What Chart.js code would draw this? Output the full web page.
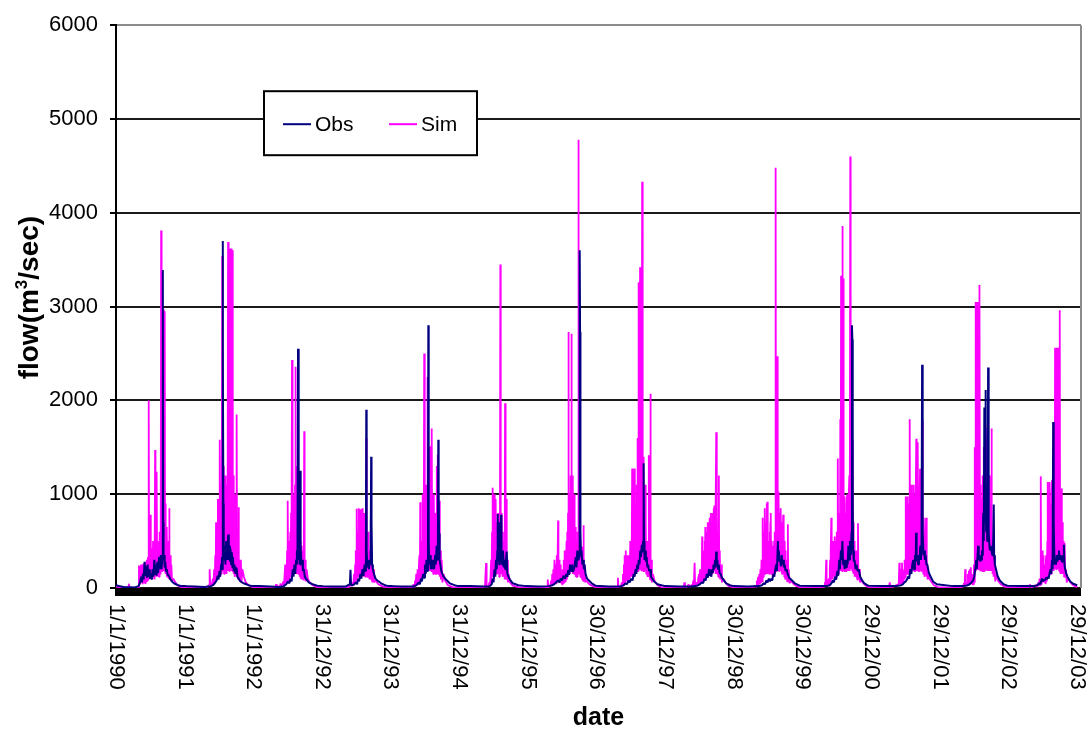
<!DOCTYPE html>
<html>
<head>
<meta charset="utf-8">
<script src="https://cdn.jsdelivr.net/npm/chart.js@4.4.1/dist/chart.umd.min.js"></script>
<style>
  html, body { margin: 0; padding: 0; background: #ffffff; }
</style>
</head>
<body>
<canvas id="flowChart" width="1092" height="733"></canvas>
<script>
// days counted from 1/1/1990, flows in m3/sec
const dateLabels = ["1/1/1990", "1/1/1991", "1/1/1992", "31/12/92", "31/12/93", "31/12/94", "31/12/95",
  "30/12/96", "30/12/97", "30/12/98", "30/12/99", "29/12/00", "29/12/01", "29/12/02", "29/12/03"];
const labelStep = 365;

const obsFlow = [
  // 1990
  [0, 30], [20, 20], [40, 10], [100, 5], [120, 20], [128, 60], [134, 120], [138, 60], [143, 150], [147, 90], [152, 280], [156, 130], [160, 230], [164, 110], [168, 250], [172, 120], [176, 200], [180, 100], [186, 150], [190, 90], [195, 200], [199, 120], [204, 300], [208, 150], [212, 250], [216, 130], [220, 280], [224, 160], [229, 330], [233, 200], [238, 350], [242, 200], [246, 300], [249, 3390], [251, 700], [253, 300], [256, 350], [259, 220], [262, 280], [266, 180], [270, 200], [275, 140], [282, 130], [290, 90], [300, 65], [312, 45], [330, 30], [350, 20],
  // 1991
  [370, 20], [420, 15], [470, 10], [505, 20], [515, 30], [525, 50], [535, 80], [541, 130], [545, 90], [550, 180], [554, 120], [559, 250], [563, 330], [565, 200], [567, 3700], [569, 2600], [571, 900], [573, 400], [576, 300], [579, 450], [582, 250], [586, 500], [589, 300], [593, 420], [597, 570], [600, 300], [603, 450], [606, 280], [609, 420], [612, 250], [616, 380], [619, 220], [622, 330], [626, 180], [630, 250], [634, 160], [638, 220], [642, 200], [646, 120], [652, 100], [660, 75], [670, 60], [685, 45], [705, 30], [725, 20],
  // 1992
  [760, 20], [820, 15], [870, 10], [892, 20], [905, 40], [915, 70], [922, 50], [928, 100], [934, 70], [940, 200], [944, 120], [949, 250], [953, 150], [958, 300], [962, 400], [965, 250], [968, 2550], [970, 600], [973, 300], [976, 400], [979, 250], [981, 1250], [983, 450], [986, 250], [990, 300], [994, 180], [999, 200], [1004, 120], [1010, 100], [1025, 60], [1045, 40], [1070, 25],
  // 1993
  [1100, 20], [1150, 15], [1220, 15], [1244, 40], [1247, 195], [1250, 30], [1265, 35], [1275, 60], [1282, 40], [1288, 100], [1293, 70], [1300, 150], [1305, 100], [1311, 200], [1316, 130], [1322, 250], [1326, 180], [1329, 300], [1331, 1900], [1333, 400], [1337, 220], [1341, 300], [1345, 200], [1350, 280], [1354, 250], [1357, 1400], [1359, 700], [1362, 250], [1366, 200], [1372, 150], [1380, 100], [1390, 80], [1410, 50], [1430, 30], [1450, 20],
  // 1994
  [1470, 20], [1520, 15], [1580, 15], [1598, 30], [1610, 60], [1616, 40], [1622, 100], [1627, 70], [1633, 150], [1638, 110], [1643, 250], [1647, 150], [1651, 300], [1655, 180], [1659, 330], [1661, 2800], [1663, 500], [1666, 250], [1670, 350], [1674, 200], [1678, 300], [1682, 200], [1687, 300], [1692, 200], [1697, 350], [1701, 250], [1705, 450], [1709, 300], [1712, 500], [1714, 1580], [1716, 1040], [1718, 580], [1721, 300], [1725, 250], [1730, 180], [1740, 130], [1755, 90], [1775, 50], [1800, 30], [1820, 20],
  // 1995
  [1880, 20], [1960, 15], [1988, 20], [1998, 40], [2003, 100], [2008, 60], [2013, 200], [2017, 120], [2021, 300], [2025, 200], [2028, 400], [2030, 790], [2032, 300], [2035, 500], [2038, 250], [2041, 700], [2044, 300], [2048, 780], [2050, 300], [2054, 250], [2058, 400], [2062, 220], [2066, 300], [2070, 200], [2074, 300], [2078, 390], [2081, 150], [2087, 120], [2095, 90], [2110, 50], [2140, 30], [2180, 20],
  // 1996
  [2250, 15], [2300, 20], [2320, 30], [2330, 40], [2340, 60], [2350, 80], [2358, 60], [2365, 100], [2372, 80], [2380, 130], [2388, 100], [2395, 150], [2400, 120], [2405, 190], [2410, 140], [2415, 250], [2420, 180], [2425, 250], [2430, 170], [2435, 200], [2440, 260], [2445, 330], [2449, 220], [2453, 400], [2457, 300], [2461, 400], [2463, 330], [2466, 3600], [2468, 2730], [2470, 600], [2473, 350], [2476, 400], [2480, 250], [2484, 300], [2488, 200], [2492, 250], [2497, 150], [2505, 100], [2515, 80], [2530, 50], [2550, 25],
  // 1997
  [2620, 15], [2680, 15], [2700, 30], [2710, 50], [2718, 40], [2725, 80], [2732, 60], [2740, 100], [2747, 80], [2753, 150], [2758, 120], [2763, 200], [2767, 150], [2772, 250], [2776, 200], [2780, 300], [2784, 250], [2788, 400], [2792, 330], [2796, 460], [2800, 380], [2803, 500], [2806, 1330], [2808, 500], [2811, 300], [2815, 400], [2818, 280], [2822, 330], [2826, 220], [2830, 250], [2835, 180], [2840, 200], [2845, 120], [2852, 100], [2862, 70], [2880, 40], [2920, 20],
  // 1998
  [3000, 15], [3060, 15], [3090, 25], [3105, 40], [3115, 60], [3122, 50], [3130, 100], [3136, 80], [3142, 150], [3148, 110], [3154, 200], [3158, 130], [3162, 180], [3166, 120], [3170, 200], [3174, 160], [3178, 250], [3182, 200], [3186, 300], [3189, 220], [3192, 390], [3195, 250], [3198, 300], [3202, 200], [3206, 250], [3210, 160], [3215, 150], [3222, 110], [3230, 90], [3245, 50], [3265, 30], [3285, 20],
  // 1999
  [3360, 15], [3420, 20], [3435, 30], [3445, 50], [3452, 40], [3458, 80], [3465, 60], [3472, 100], [3478, 70], [3485, 100], [3490, 80], [3496, 150], [3501, 120], [3506, 200], [3511, 250], [3515, 180], [3520, 500], [3522, 300], [3525, 400], [3528, 280], [3532, 300], [3536, 230], [3540, 350], [3544, 250], [3548, 300], [3552, 220], [3556, 250], [3561, 180], [3566, 200], [3572, 150], [3580, 110], [3590, 90], [3610, 50], [3636, 25],
  // 2000
  [3720, 20], [3780, 20], [3795, 30], [3805, 50], [3812, 80], [3818, 60], [3824, 120], [3830, 90], [3836, 180], [3841, 130], [3846, 300], [3850, 200], [3855, 400], [3859, 300], [3863, 500], [3867, 250], [3871, 300], [3875, 200], [3879, 300], [3883, 220], [3887, 300], [3891, 250], [3895, 450], [3899, 300], [3903, 500], [3908, 350], [3912, 600], [3914, 2800], [3916, 2650], [3918, 900], [3920, 400], [3924, 280], [3928, 300], [3933, 200], [3938, 250], [3944, 180], [3950, 200], [3958, 120], [3968, 80], [3980, 50], [4000, 25],
  // 2001
  [4080, 20], [4150, 20], [4175, 30], [4185, 40], [4193, 60], [4200, 70], [4206, 90], [4212, 120], [4218, 100], [4225, 200], [4230, 150], [4235, 250], [4240, 300], [4244, 200], [4249, 350], [4253, 280], [4255, 590], [4258, 300], [4262, 350], [4266, 250], [4270, 350], [4274, 300], [4277, 450], [4281, 300], [4284, 500], [4287, 2380], [4289, 1800], [4291, 600], [4294, 350], [4298, 400], [4302, 300], [4306, 350], [4310, 250], [4315, 250], [4322, 170], [4330, 130], [4345, 70], [4365, 40],
  // 2002
  [4450, 20], [4510, 20], [4530, 30], [4540, 40], [4550, 60], [4558, 80], [4564, 120], [4570, 200], [4575, 300], [4578, 200], [4582, 350], [4585, 450], [4588, 300], [4592, 350], [4595, 290], [4599, 350], [4603, 300], [4605, 400], [4608, 350], [4610, 500], [4612, 800], [4615, 500], [4618, 1925], [4620, 700], [4622, 900], [4624, 2110], [4626, 800], [4628, 600], [4630, 1100], [4633, 500], [4636, 900], [4638, 2350], [4640, 1300], [4642, 600], [4645, 450], [4648, 400], [4652, 450], [4656, 400], [4660, 350], [4664, 400], [4668, 890], [4670, 350], [4674, 250], [4680, 200], [4688, 130], [4700, 80], [4720, 40], [4740, 25],
  // 2003
  [4820, 20], [4880, 20], [4900, 30], [4910, 50], [4916, 40], [4921, 80], [4925, 100], [4930, 70], [4936, 90], [4940, 80], [4946, 110], [4950, 90], [4955, 120], [4960, 100], [4965, 160], [4970, 200], [4974, 150], [4978, 300], [4981, 200], [4984, 1770], [4986, 900], [4988, 700], [4991, 250], [4995, 300], [4999, 250], [5003, 350], [5007, 280], [5011, 350], [5015, 400], [5019, 300], [5023, 350], [5027, 300], [5031, 280], [5035, 350], [5038, 300], [5041, 460], [5044, 250], [5048, 200], [5054, 150], [5060, 120], [5075, 70], [5090, 45], [5112, 30]
];

const simFlow = [
  // 1990
  [0, 15], [35, 5], [66, 10], [68, 45], [72, 5], [118, 5], [122, 240], [124, 40], [127, 230], [130, 50], [133, 250], [136, 60], [139, 200], [142, 40], [146, 260], [149, 60], [152, 240], [155, 50], [158, 280], [161, 70], [164, 300], [167, 80], [170, 330], [172, 90], [174, 2000], [176, 120], [178, 500], [180, 100], [182, 780], [184, 120], [186, 450], [188, 100], [191, 420], [194, 100], [197, 500], [200, 120], [203, 380], [205, 90], [208, 1470], [210, 130], [213, 450], [215, 120], [217, 1240], [219, 150], [222, 500], [224, 130], [227, 450], [229, 120], [232, 600], [234, 150], [237, 550], [238, 180], [240, 3810], [242, 180], [243, 3300], [245, 180], [247, 2970], [249, 200], [251, 2950], [253, 180], [255, 2970], [257, 200], [259, 2950], [261, 180], [263, 900], [265, 150], [267, 650], [269, 120], [271, 600], [273, 120], [276, 420], [278, 110], [280, 500], [282, 100], [283, 850], [285, 120], [288, 350], [291, 90], [294, 250], [298, 80], [305, 100], [315, 60], [330, 25], [350, 10],
  // 1991
  [380, 5], [440, 5], [480, 5], [495, 30], [498, 200], [501, 30], [510, 40], [515, 100], [518, 30], [522, 200], [525, 50], [528, 350], [530, 70], [532, 700], [534, 90], [537, 500], [539, 100], [542, 950], [544, 120], [546, 600], [548, 120], [550, 1000], [552, 150], [553, 1580], [555, 150], [557, 800], [559, 150], [561, 1100], [563, 150], [565, 3540], [567, 180], [569, 1200], [571, 180], [573, 1300], [575, 150], [577, 900], [579, 180], [581, 1200], [583, 180], [586, 900], [588, 150], [591, 1100], [593, 180], [596, 3690], [598, 180], [600, 1500], [602, 180], [604, 3620], [606, 200], [608, 3620], [610, 180], [612, 3620], [614, 200], [616, 3620], [618, 180], [620, 3600], [622, 180], [624, 1200], [626, 150], [629, 800], [631, 120], [634, 1000], [636, 150], [639, 700], [641, 120], [642, 1850], [644, 120], [647, 400], [649, 100], [652, 860], [654, 90], [657, 300], [660, 70], [664, 300], [667, 60], [672, 200], [680, 120], [690, 60], [705, 30], [725, 10],
  // 1992
  [760, 5], [800, 5], [845, 5], [852, 40], [856, 10], [872, 20], [875, 50], [878, 15], [886, 40], [890, 70], [893, 20], [897, 150], [900, 250], [902, 50], [905, 150], [907, 40], [910, 400], [912, 60], [914, 930], [916, 70], [918, 300], [920, 60], [922, 500], [924, 90], [927, 600], [929, 120], [931, 800], [933, 150], [936, 2430], [938, 150], [940, 760], [942, 150], [944, 1000], [946, 150], [948, 700], [950, 150], [952, 1100], [953, 180], [955, 2360], [957, 150], [959, 800], [961, 150], [963, 1300], [965, 180], [967, 900], [969, 150], [971, 1250], [973, 150], [975, 600], [977, 120], [980, 500], [982, 100], [985, 450], [987, 90], [991, 400], [993, 90], [996, 300], [998, 80], [1001, 1670], [1003, 90], [1006, 300], [1009, 70], [1014, 200], [1020, 100], [1030, 60], [1045, 30], [1070, 10],
  // 1993
  [1100, 5], [1150, 5], [1200, 5], [1238, 10], [1240, 20], [1248, 30], [1250, 60], [1254, 20], [1262, 40], [1266, 150], [1269, 40], [1272, 250], [1274, 60], [1276, 400], [1278, 90], [1280, 845], [1282, 120], [1285, 600], [1287, 120], [1290, 850], [1292, 150], [1295, 500], [1297, 120], [1300, 840], [1302, 150], [1305, 700], [1307, 150], [1310, 850], [1312, 150], [1315, 500], [1317, 120], [1320, 800], [1322, 150], [1324, 600], [1326, 120], [1328, 700], [1329, 150], [1331, 1600], [1333, 150], [1336, 400], [1338, 110], [1341, 600], [1343, 120], [1346, 400], [1348, 90], [1352, 300], [1355, 740], [1357, 90], [1360, 300], [1363, 60], [1368, 200], [1372, 60], [1380, 80], [1395, 40], [1420, 15], [1450, 5],
  // 1994
  [1500, 5], [1550, 5], [1578, 10], [1582, 40], [1586, 15], [1590, 80], [1593, 20], [1597, 150], [1600, 30], [1604, 200], [1607, 40], [1611, 250], [1614, 350], [1616, 60], [1618, 915], [1620, 70], [1623, 300], [1625, 90], [1628, 500], [1630, 120], [1632, 1000], [1634, 150], [1636, 600], [1637, 150], [1639, 2500], [1641, 150], [1643, 900], [1645, 180], [1648, 1100], [1650, 180], [1652, 900], [1654, 180], [1656, 1100], [1658, 2250], [1660, 200], [1662, 1510], [1664, 200], [1666, 1510], [1668, 180], [1670, 1300], [1672, 200], [1674, 1510], [1676, 180], [1678, 1200], [1680, 1700], [1682, 180], [1685, 800], [1687, 150], [1690, 1000], [1692, 180], [1695, 500], [1697, 150], [1700, 800], [1702, 150], [1706, 1300], [1708, 180], [1711, 1420], [1713, 150], [1715, 900], [1717, 150], [1720, 930], [1722, 120], [1725, 400], [1728, 90], [1732, 300], [1736, 60], [1742, 150], [1750, 80], [1765, 30], [1790, 10], [1820, 5],
  // 1995
  [1880, 5], [1940, 5], [1962, 10], [1968, 265], [1971, 15], [1982, 20], [1985, 60], [1988, 20], [1992, 120], [1995, 300], [1997, 60], [2000, 600], [2002, 120], [2004, 1070], [2006, 150], [2008, 700], [2010, 150], [2012, 1000], [2014, 150], [2016, 800], [2018, 150], [2020, 950], [2022, 150], [2024, 700], [2026, 150], [2028, 600], [2030, 150], [2032, 800], [2034, 150], [2036, 600], [2038, 120], [2041, 500], [2042, 120], [2044, 3450], [2046, 150], [2048, 700], [2050, 150], [2052, 800], [2054, 150], [2056, 600], [2058, 120], [2061, 500], [2063, 120], [2066, 400], [2067, 90], [2069, 1970], [2071, 90], [2073, 400], [2075, 110], [2077, 950], [2079, 90], [2081, 300], [2084, 60], [2088, 150], [2095, 60], [2110, 25], [2140, 10], [2180, 5],
  // 1996
  [2250, 5], [2280, 10], [2294, 10], [2296, 90], [2299, 10], [2310, 20], [2314, 80], [2317, 20], [2320, 150], [2323, 30], [2326, 200], [2329, 50], [2332, 300], [2335, 60], [2338, 250], [2341, 50], [2344, 350], [2347, 70], [2351, 720], [2353, 70], [2356, 300], [2359, 60], [2362, 250], [2365, 50], [2368, 150], [2372, 40], [2375, 200], [2378, 50], [2381, 300], [2383, 60], [2386, 400], [2388, 70], [2391, 300], [2393, 70], [2396, 500], [2398, 90], [2400, 600], [2402, 120], [2404, 800], [2406, 2730], [2408, 150], [2410, 800], [2412, 150], [2414, 1000], [2416, 180], [2418, 1200], [2420, 180], [2422, 2710], [2424, 180], [2426, 700], [2428, 150], [2430, 1200], [2432, 180], [2434, 900], [2436, 150], [2438, 1000], [2440, 150], [2442, 650], [2444, 120], [2446, 400], [2448, 120], [2450, 500], [2452, 120], [2455, 600], [2457, 150], [2459, 4780], [2461, 180], [2463, 1000], [2465, 150], [2467, 550], [2469, 120], [2472, 440], [2474, 110], [2477, 400], [2479, 90], [2482, 440], [2484, 90], [2486, 670], [2488, 70], [2492, 250], [2496, 60], [2502, 80], [2512, 50], [2525, 30], [2550, 10],
  // 1997
  [2600, 5], [2640, 5], [2665, 10], [2669, 110], [2672, 10], [2685, 20], [2690, 60], [2693, 20], [2696, 150], [2698, 40], [2701, 250], [2703, 50], [2705, 350], [2707, 70], [2710, 400], [2712, 90], [2715, 350], [2717, 80], [2720, 350], [2722, 70], [2725, 300], [2727, 80], [2730, 350], [2732, 90], [2735, 500], [2737, 120], [2740, 400], [2742, 120], [2745, 1275], [2747, 120], [2750, 350], [2752, 120], [2754, 400], [2757, 1275], [2759, 150], [2761, 700], [2763, 150], [2765, 900], [2767, 180], [2769, 1100], [2771, 180], [2773, 1300], [2775, 1600], [2777, 180], [2779, 1500], [2780, 3260], [2782, 200], [2784, 1500], [2786, 200], [2787, 3420], [2789, 250], [2791, 1300], [2793, 200], [2795, 1100], [2797, 180], [2798, 4330], [2800, 200], [2802, 1300], [2804, 180], [2806, 1400], [2808, 180], [2810, 1100], [2812, 180], [2814, 1100], [2816, 180], [2818, 700], [2820, 150], [2822, 500], [2824, 150], [2827, 500], [2829, 120], [2831, 400], [2833, 120], [2834, 1415], [2836, 120], [2838, 400], [2840, 90], [2842, 2070], [2844, 90], [2847, 300], [2850, 60], [2855, 150], [2865, 70], [2880, 30], [2900, 10], [2920, 5],
  // 1998
  [2980, 5], [3020, 10], [3023, 60], [3026, 10], [3040, 15], [3045, 40], [3048, 15], [3058, 20], [3062, 40], [3066, 15], [3070, 80], [3073, 20], [3077, 270], [3080, 20], [3086, 40], [3090, 60], [3093, 20], [3097, 120], [3100, 150], [3103, 40], [3106, 200], [3109, 50], [3113, 200], [3115, 70], [3117, 550], [3119, 60], [3122, 250], [3124, 70], [3126, 400], [3128, 90], [3130, 500], [3132, 90], [3134, 650], [3136, 120], [3138, 550], [3140, 120], [3142, 600], [3144, 120], [3146, 700], [3148, 150], [3150, 650], [3152, 150], [3154, 700], [3156, 150], [3158, 750], [3160, 150], [3162, 800], [3164, 150], [3166, 700], [3168, 150], [3170, 650], [3172, 150], [3174, 800], [3176, 180], [3178, 850], [3180, 180], [3182, 880], [3184, 180], [3186, 750], [3188, 150], [3190, 900], [3192, 1660], [3194, 150], [3196, 900], [3198, 150], [3201, 600], [3203, 120], [3206, 1200], [3208, 120], [3211, 400], [3213, 90], [3218, 250], [3222, 60], [3230, 100], [3240, 60], [3255, 25], [3285, 5],
  // 1999
  [3340, 5], [3380, 10], [3398, 15], [3400, 30], [3404, 15], [3408, 80], [3411, 20], [3415, 120], [3418, 30], [3421, 150], [3424, 40], [3427, 200], [3430, 50], [3433, 300], [3436, 70], [3438, 400], [3440, 750], [3442, 120], [3444, 400], [3446, 120], [3448, 600], [3450, 850], [3452, 150], [3454, 600], [3456, 150], [3458, 700], [3460, 900], [3462, 150], [3464, 920], [3466, 150], [3468, 500], [3470, 150], [3472, 500], [3474, 150], [3476, 600], [3478, 150], [3480, 700], [3482, 800], [3484, 150], [3486, 500], [3488, 150], [3490, 450], [3492, 120], [3495, 400], [3497, 120], [3500, 500], [3502, 600], [3504, 150], [3506, 500], [3508, 4480], [3510, 180], [3512, 900], [3514, 180], [3515, 700], [3517, 2470], [3519, 180], [3521, 700], [3523, 180], [3524, 1030], [3526, 180], [3528, 700], [3530, 180], [3532, 800], [3534, 180], [3536, 850], [3538, 180], [3540, 700], [3542, 150], [3544, 700], [3546, 150], [3548, 780], [3550, 150], [3552, 600], [3554, 120], [3556, 500], [3558, 110], [3560, 400], [3562, 90], [3566, 300], [3569, 70], [3573, 680], [3575, 70], [3578, 200], [3582, 50], [3590, 80], [3600, 50], [3615, 25], [3636, 10],
  // 2000
  [3700, 5], [3750, 10], [3768, 15], [3770, 60], [3773, 15], [3777, 300], [3779, 20], [3786, 30], [3790, 100], [3793, 25], [3796, 200], [3798, 300], [3800, 60], [3802, 400], [3804, 750], [3806, 90], [3808, 400], [3810, 90], [3812, 450], [3815, 500], [3817, 120], [3819, 500], [3822, 550], [3824, 120], [3826, 500], [3828, 450], [3830, 120], [3832, 600], [3834, 600], [3836, 150], [3838, 700], [3839, 1380], [3841, 150], [3843, 500], [3845, 150], [3848, 800], [3850, 180], [3852, 1800], [3854, 180], [3856, 3330], [3857, 200], [3859, 1500], [3861, 180], [3863, 3860], [3865, 200], [3867, 3300], [3869, 180], [3870, 1000], [3872, 180], [3874, 800], [3876, 975], [3878, 180], [3880, 800], [3882, 700], [3884, 180], [3886, 900], [3888, 1000], [3890, 180], [3892, 900], [3894, 800], [3896, 180], [3898, 1000], [3900, 1200], [3902, 180], [3905, 4600], [3907, 200], [3909, 1580], [3911, 200], [3914, 1500], [3916, 180], [3918, 1580], [3920, 180], [3922, 700], [3924, 150], [3926, 500], [3928, 120], [3931, 400], [3933, 120], [3936, 300], [3938, 110], [3940, 400], [3942, 90], [3946, 690], [3948, 90], [3952, 200], [3956, 60], [3962, 100], [3970, 60], [3985, 30], [4000, 10],
  // 2001
  [4060, 5], [4110, 10], [4115, 60], [4118, 10], [4135, 15], [4140, 20], [4150, 30], [4160, 40], [4163, 60], [4166, 270], [4168, 40], [4171, 120], [4174, 40], [4177, 200], [4180, 270], [4182, 50], [4185, 150], [4188, 60], [4191, 200], [4193, 90], [4195, 300], [4197, 120], [4200, 975], [4202, 150], [4205, 700], [4207, 150], [4210, 975], [4212, 150], [4215, 800], [4217, 150], [4219, 900], [4221, 1800], [4223, 180], [4225, 700], [4227, 180], [4230, 1100], [4232, 180], [4234, 1000], [4236, 900], [4238, 180], [4240, 1000], [4242, 1100], [4244, 180], [4246, 1000], [4248, 900], [4250, 180], [4253, 1000], [4256, 1590], [4258, 180], [4260, 800], [4262, 180], [4265, 1555], [4267, 180], [4270, 900], [4272, 180], [4274, 1000], [4276, 1270], [4278, 180], [4281, 700], [4283, 180], [4285, 900], [4287, 1785], [4289, 180], [4291, 700], [4293, 150], [4296, 750], [4298, 150], [4300, 500], [4302, 120], [4305, 500], [4308, 750], [4310, 120], [4313, 300], [4316, 90], [4320, 150], [4326, 100], [4335, 70], [4350, 30], [4370, 10],
  // 2002
  [4430, 5], [4490, 10], [4505, 15], [4510, 50], [4513, 20], [4516, 200], [4519, 30], [4522, 60], [4526, 30], [4530, 150], [4533, 40], [4536, 180], [4538, 40], [4540, 200], [4543, 50], [4546, 220], [4548, 60], [4552, 150], [4554, 40], [4556, 100], [4559, 40], [4562, 250], [4564, 60], [4566, 600], [4568, 1500], [4570, 180], [4572, 3050], [4574, 200], [4576, 1200], [4578, 200], [4580, 3050], [4582, 200], [4584, 1400], [4586, 200], [4588, 3000], [4590, 250], [4591, 1500], [4593, 3230], [4595, 200], [4597, 1100], [4599, 180], [4601, 900], [4604, 960], [4606, 180], [4608, 1000], [4610, 1200], [4612, 180], [4614, 1300], [4616, 1500], [4618, 180], [4620, 1200], [4622, 1300], [4624, 180], [4626, 1400], [4628, 1600], [4630, 200], [4632, 1500], [4634, 1710], [4636, 180], [4638, 1100], [4640, 180], [4642, 1000], [4644, 1200], [4646, 180], [4648, 900], [4650, 900], [4652, 180], [4654, 800], [4656, 1700], [4658, 180], [4660, 500], [4662, 150], [4665, 400], [4667, 120], [4672, 250], [4676, 70], [4682, 150], [4690, 80], [4705, 40], [4725, 15], [4740, 10],
  // 2003
  [4800, 10], [4850, 10], [4856, 15], [4860, 40], [4863, 10], [4880, 15], [4890, 30], [4893, 15], [4898, 40], [4902, 20], [4905, 60], [4908, 20], [4912, 100], [4915, 30], [4918, 1190], [4920, 40], [4922, 150], [4924, 40], [4926, 400], [4928, 60], [4930, 350], [4932, 300], [4934, 60], [4937, 250], [4940, 200], [4942, 50], [4945, 300], [4948, 350], [4950, 70], [4953, 500], [4955, 1130], [4957, 120], [4960, 700], [4962, 150], [4964, 800], [4966, 1130], [4968, 150], [4970, 900], [4972, 800], [4974, 150], [4976, 1000], [4978, 1150], [4980, 180], [4982, 1000], [4984, 1000], [4986, 180], [4988, 1200], [4990, 1500], [4992, 200], [4994, 2560], [4996, 200], [4998, 1800], [5000, 200], [5002, 2560], [5004, 200], [5006, 2200], [5008, 200], [5010, 2560], [5012, 200], [5014, 1500], [5016, 180], [5019, 2960], [5021, 180], [5023, 900], [5025, 150], [5028, 1060], [5030, 150], [5032, 700], [5034, 600], [5036, 150], [5038, 500], [5040, 450], [5042, 120], [5044, 400], [5046, 480], [5048, 120], [5052, 200], [5056, 60], [5062, 100], [5075, 60], [5090, 30], [5112, 10]
];

const FONT_FAMILY = "'Liberation Sans', Arial, sans-serif";

function toPoints(pairs) {
  return pairs.map(function (pair) {
    return { x: pair[0], y: pair[1] };
  });
}

// y title with a raised 3, drawn by hand so the superscript sits like the original
function drawYTitle(ctx, area) {
  const parts = [
    { text: "flow(m", size: 28, rise: 0 },
    { text: "3", size: 17, rise: 11 },
    { text: "/sec)", size: 28, rise: 0 }
  ];
  let total = 0;
  parts.forEach(function (part) {
    ctx.font = "bold " + part.size + "px " + FONT_FAMILY;
    part.width = ctx.measureText(part.text).width;
    total += part.width;
  });
  ctx.save();
  ctx.translate(38, (area.top + area.bottom) / 2 - 9);
  ctx.rotate(-Math.PI / 2);
  ctx.fillStyle = "#000000";
  ctx.textAlign = "left";
  ctx.textBaseline = "alphabetic";
  let x = -total / 2;
  parts.forEach(function (part) {
    ctx.font = "bold " + part.size + "px " + FONT_FAMILY;
    ctx.fillText(part.text, x, -part.rise);
    x += part.width;
  });
  ctx.restore();
}

// draws the tick band, frame, rotated date labels, y title and the boxed legend
const chartDecor = {
  id: "chartDecor",
  afterDraw: function (chart) {
    const ctx = chart.ctx;
    const area = chart.chartArea;
    const xScale = chart.scales.x;

    ctx.save();

    ctx.fillStyle = "#000000";
    ctx.fillRect(area.left - 1, area.bottom, area.right - area.left + 1, 8);

    ctx.strokeStyle = "#8c8c8c";
    ctx.lineWidth = 2;
    ctx.beginPath();
    ctx.moveTo(area.right, area.top);
    ctx.lineTo(area.right, area.bottom);
    ctx.stroke();

    ctx.font = "22px " + FONT_FAMILY;
    ctx.fillStyle = "#000000";
    ctx.textAlign = "left";
    ctx.textBaseline = "middle";
    dateLabels.forEach(function (label, i) {
      const x = xScale.getPixelForValue(i * labelStep);
      ctx.save();
      ctx.translate(x, area.bottom + 16);
      ctx.rotate(Math.PI / 2);
      ctx.fillText(label, 0, 0);
      ctx.restore();
    });

    drawYTitle(ctx, area);

    const boxLeft = area.left + 148;
    const boxTop = area.top + 66;
    ctx.fillStyle = "#ffffff";
    ctx.fillRect(boxLeft, boxTop, 213, 64);
    ctx.strokeStyle = "#000000";
    ctx.lineWidth = 2;
    ctx.strokeRect(boxLeft, boxTop, 213, 64);

    const items = [
      { text: "Obs", color: "#000080", at: 19 },
      { text: "Sim", color: "#ff00ff", at: 125 }
    ];
    ctx.font = "21px " + FONT_FAMILY;
    ctx.textAlign = "left";
    ctx.textBaseline = "middle";
    items.forEach(function (item) {
      const y = boxTop + 33;
      ctx.strokeStyle = item.color;
      ctx.lineWidth = 2;
      ctx.beginPath();
      ctx.moveTo(boxLeft + item.at, y);
      ctx.lineTo(boxLeft + item.at + 28, y);
      ctx.stroke();
      ctx.fillStyle = "#000000";
      ctx.fillText(item.text, boxLeft + item.at + 32, y + 1);
    });

    ctx.restore();
  }
};

new Chart(document.getElementById("flowChart"), {
  type: "line",
  data: {
    datasets: [
      {
        label: "Obs",
        data: toPoints(obsFlow),
        borderColor: "#000080",
        borderWidth: 2,
        order: 1
      },
      {
        label: "Sim",
        data: toPoints(simFlow),
        borderColor: "#ff00ff",
        borderWidth: 1.8,
        order: 2
      }
    ]
  },
  options: {
    responsive: false,
    animation: false,
    events: [],
    layout: {
      padding: { left: 0, right: 11, top: 17, bottom: 0 }
    },
    elements: {
      point: { radius: 0 },
      line: { tension: 0, borderJoinStyle: "bevel", fill: false }
    },
    plugins: {
      legend: { display: false },
      tooltip: { enabled: false }
    },
    scales: {
      x: {
        type: "linear",
        min: 0,
        max: 5132,
        grid: { display: false },
        border: { display: false },
        ticks: { display: false },
        title: {
          display: true,
          text: "date",
          color: "#000000",
          font: { family: FONT_FAMILY, size: 25, weight: "bold" },
          padding: { top: 0, bottom: 0 }
        },
        afterFit: function (scale) {
          scale.height = 145;
        }
      },
      y: {
        min: 0,
        max: 6000,
        ticks: {
          stepSize: 1000,
          color: "#000000",
          padding: 12,
          font: { family: FONT_FAMILY, size: 22 },
          callback: function (value) {
            return String(value);
          }
        },
        grid: {
          color: function (context) {
            return context.tick && context.tick.value === 6000 ? "#8c8c8c" : "#1a1a1a";
          },
          lineWidth: 2,
          tickLength: 6,
          tickColor: "#000000"
        },
        border: { color: "#000000", width: 2 },
        afterFit: function (scale) {
          scale.width = 116;
        }
      }
    }
  },
  plugins: [chartDecor]
});
</script>
</body>
</html>
